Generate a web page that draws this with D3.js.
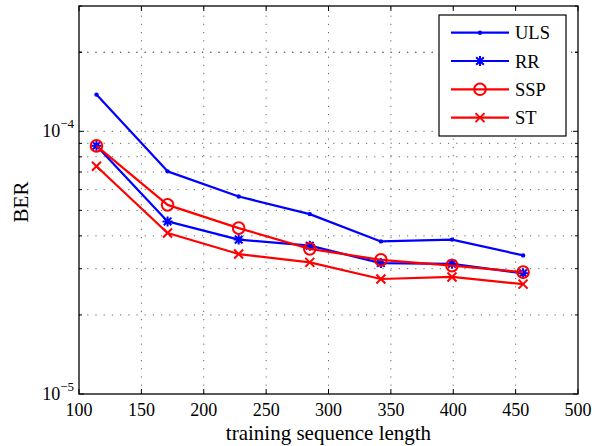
<!DOCTYPE html>
<html>
<head>
<meta charset="utf-8">
<script src="https://cdn.jsdelivr.net/npm/d3@7"></script>
<style>
  body { margin: 0; background: #fff; }
  svg text { font-family: "Liberation Serif", "DejaVu Serif", serif; fill: #000; }
</style>
</head>
<body>
<div id="chart"></div>
<script>
const width = 595;
const height = 446;
const margin = {top: 6, right: 17, bottom: 52, left: 79};

// Data
const lengths = [114, 171, 228, 285, 342, 399, 456];
const uls = [1.38e-4, 7.04e-5, 5.65e-5, 4.84e-5, 3.81e-5, 3.87e-5, 3.37e-5];
const rr  = [8.82e-5, 4.54e-5, 3.87e-5, 3.67e-5, 3.15e-5, 3.13e-5, 2.88e-5];
const ssp = [8.8e-5, 5.25e-5, 4.28e-5, 3.57e-5, 3.24e-5, 3.08e-5, 2.91e-5];
const st  = [7.36e-5, 4.10e-5, 3.41e-5, 3.17e-5, 2.74e-5, 2.79e-5, 2.62e-5];
const xTicks = [100, 150, 200, 250, 300, 350, 400, 450, 500];
const yDecades = [1e-5, 1e-4];

const series = [
  {name: "ULS", values: uls, color: "#0000ff", marker: "dot"},
  {name: "RR",  values: rr,  color: "#0000ff", marker: "star"},
  {name: "SSP", values: ssp, color: "#ff0000", marker: "circle"},
  {name: "ST",  values: st,  color: "#ff0000", marker: "cross"}
];

const x = d3.scaleLinear().domain([100, 500]).range([margin.left, width - margin.right]);
const y = d3.scaleLog().domain([1e-5, 3e-4]).range([height - margin.bottom, margin.top]);

const svg = d3.select("#chart").append("svg")
  .attr("width", width)
  .attr("height", height);

const x0 = margin.left, x1 = width - margin.right;
const y0 = height - margin.bottom, y1 = margin.top;

// minor + major y values for grid
const yGrid = [];
[-5, -4].forEach(e => {
  for (let m = 1; m <= 9; m++) {
    const v = m * Math.pow(10, e);
    if (v >= 1e-5 && v <= 3e-4) yGrid.push(v);
  }
});
yGrid.push(2e-4, 3e-4);

const grid = svg.append("g")
  .attr("stroke", "#555")
  .attr("stroke-width", 0.9)
  .attr("stroke-dasharray", "1.2,7");

grid.selectAll("line.gy")
  .data(yGrid.filter(v => v > 1e-5 && v < 3e-4))
  .join("line")
  .attr("x1", x0).attr("x2", x1)
  .attr("y1", d => y(d)).attr("y2", d => y(d));

grid.selectAll("line.gx")
  .data(xTicks.slice(1, -1))
  .join("line")
  .attr("class", "gx")
  .attr("x1", d => x(d)).attr("x2", d => x(d))
  .attr("y1", y0).attr("y2", y1);

// ticks (inside, both sides)
const ticks = svg.append("g").attr("stroke", "#000").attr("stroke-width", 1);
xTicks.forEach(t => {
  ticks.append("line").attr("x1", x(t)).attr("x2", x(t)).attr("y1", y0).attr("y2", y0 - 5);
  ticks.append("line").attr("x1", x(t)).attr("x2", x(t)).attr("y1", y1).attr("y2", y1 + 5);
});
yGrid.forEach(v => {
  const major = yDecades.includes(v);
  const len = major ? 5 : 3;
  ticks.append("line").attr("x1", x0).attr("x2", x0 + len).attr("y1", y(v)).attr("y2", y(v));
  ticks.append("line").attr("x1", x1).attr("x2", x1 - len).attr("y1", y(v)).attr("y2", y(v));
});

// frame
svg.append("rect")
  .attr("x", x0).attr("y", y1)
  .attr("width", x1 - x0).attr("height", y0 - y1)
  .attr("fill", "none").attr("stroke", "#000").attr("stroke-width", 1.3);

// tick labels
svg.append("g").selectAll("text")
  .data(xTicks)
  .join("text")
  .attr("x", d => x(d))
  .attr("y", y0 + 22)
  .attr("text-anchor", "middle")
  .attr("font-size", 18)
  .text(d => d);

yDecades.forEach(v => {
  const t = svg.append("text")
    .attr("x", x0 - 5)
    .attr("y", y(v) + 6)
    .attr("text-anchor", "end")
    .attr("font-size", 18);
  t.append("tspan").text("10");
  t.append("tspan").attr("font-size", 13).attr("dy", -9).text("\u2212" + Math.round(-Math.log10(v)));
});

// axis labels
svg.append("text")
  .attr("x", (x0 + x1) / 2)
  .attr("y", height - 6)
  .attr("text-anchor", "middle")
  .attr("font-size", 21)
  .text("training sequence length");

svg.append("text")
  .attr("transform", `translate(28,${(y0 + y1) / 2 + 2}) rotate(-90)`)
  .attr("text-anchor", "middle")
  .attr("font-size", 21)
  .text("BER");

function drawMarker(g, type, cx, cy, color) {
  if (type === "dot") {
    g.append("circle").attr("cx", cx).attr("cy", cy).attr("r", 2.2).attr("fill", color);
  } else if (type === "circle") {
    g.append("circle").attr("cx", cx).attr("cy", cy).attr("r", 5.8)
      .attr("fill", "none").attr("stroke", color).attr("stroke-width", 2);
  } else if (type === "cross") {
    const s = 4.5;
    g.append("path").attr("d", `M${cx - s},${cy - s}L${cx + s},${cy + s}M${cx - s},${cy + s}L${cx + s},${cy - s}`)
      .attr("stroke", color).attr("stroke-width", 2);
  } else if (type === "star") {
    const s = 5, d = 3.8;
    g.append("path").attr("d",
      `M${cx - s},${cy}L${cx + s},${cy}M${cx},${cy - s}L${cx},${cy + s}` +
      `M${cx - d},${cy - d}L${cx + d},${cy + d}M${cx - d},${cy + d}L${cx + d},${cy - d}`)
      .attr("stroke", color).attr("stroke-width", 2);
  }
}

const line = d3.line().x(d => x(d[0])).y(d => y(d[1]));

series.forEach(s => {
  const pts = lengths.map((l, i) => [l, s.values[i]]);
  const g = svg.append("g");
  g.append("path")
    .attr("d", line(pts))
    .attr("fill", "none")
    .attr("stroke", s.color)
    .attr("stroke-width", 2.2)
    .attr("stroke-linejoin", "round");
  pts.forEach(p => drawMarker(g, s.marker, x(p[0]), y(p[1]), s.color));
});

// legend
const lg = svg.append("g");
lg.append("rect")
  .attr("x", 439).attr("y", 15)
  .attr("width", 127).attr("height", 121)
  .attr("fill", "#fff").attr("stroke", "#000").attr("stroke-width", 1.2);

series.forEach((s, i) => {
  const ly = 32.7 + i * 28.3;
  lg.append("line")
    .attr("x1", 451).attr("x2", 509)
    .attr("y1", ly).attr("y2", ly)
    .attr("stroke", s.color).attr("stroke-width", 2.2);
  drawMarker(lg, s.marker, 480, ly, s.color);
  lg.append("text")
    .attr("x", 515).attr("y", ly + 6.5)
    .attr("font-size", 18.5)
    .text(s.name);
});
</script>
</body>
</html>
